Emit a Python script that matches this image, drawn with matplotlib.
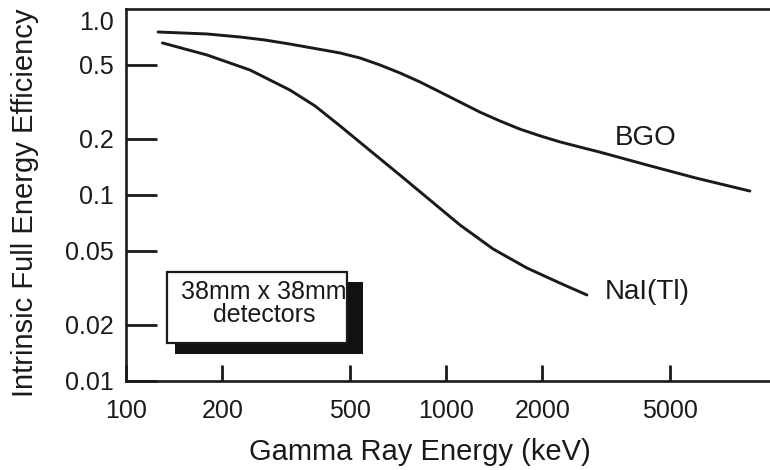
import matplotlib
matplotlib.use('Agg')
import matplotlib.pyplot as plt
from matplotlib.patches import Rectangle
from matplotlib.ticker import FixedLocator, FixedFormatter, NullLocator

plt.rcParams['font.family'] = ['Liberation Sans', 'DejaVu Sans']

# ---- data (energy in keV, efficiency) ----
bgo_energy = [126, 179, 227, 272, 325, 390, 467, 539, 622, 718, 830, 958,
              1106, 1277, 1475, 1703, 1967, 2271, 2623, 3029, 4246, 6083, 8913]
bgo_eff = [0.752, 0.734, 0.707, 0.681, 0.648, 0.613, 0.580, 0.545, 0.500,
           0.453, 0.405, 0.358, 0.316, 0.279, 0.250, 0.226, 0.208, 0.193,
           0.181, 0.170, 0.145, 0.123, 0.105]

nai_energy = [130, 179, 244, 325, 390, 467, 566, 718, 891, 1106, 1403,
              1791, 2271, 2758]
nai_eff = [0.657, 0.566, 0.470, 0.367, 0.301, 0.235, 0.179, 0.128, 0.094,
           0.069, 0.0513, 0.0405, 0.0336, 0.029]

x_ticks = [100, 200, 500, 1000, 2000, 5000]
x_tick_labels = ['100', '200', '500', '1000', '2000', '5000']
y_ticks = [0.01, 0.02, 0.05, 0.1, 0.2, 0.5]
y_tick_labels = ['0.01', '0.02', '0.05', '0.1', '0.2', '0.5']

fig = plt.figure(figsize=(7.7, 4.7), dpi=100)
ax = fig.add_axes([0.1636, 0.1894, 0.8364, 0.7915])

ax.plot(bgo_energy, bgo_eff, color='#1a1a1a', lw=2.1, solid_capstyle='round')
ax.plot(nai_energy, nai_eff, color='#1a1a1a', lw=2.1, solid_capstyle='round')

ax.set_xscale('log')
ax.set_yscale('log')
ax.set_xlim(100, 10300)
ax.set_ylim(0.01, 1.0)

ax.xaxis.set_major_locator(FixedLocator(x_ticks))
ax.xaxis.set_major_formatter(FixedFormatter(x_tick_labels))
ax.yaxis.set_major_locator(FixedLocator(y_ticks))
ax.yaxis.set_major_formatter(FixedFormatter(y_tick_labels))
ax.xaxis.set_minor_locator(NullLocator())
ax.yaxis.set_minor_locator(NullLocator())

ax.tick_params(axis='x', direction='in', length=11.5, width=2, pad=13,
               labelsize=18, colors='#1a1a1a')
ax.tick_params(axis='y', direction='in', length=22, width=2, pad=9,
               labelsize=18, colors='#1a1a1a')

for side in ['left', 'bottom', 'top']:
    ax.spines[side].set_linewidth(1.9)
    ax.spines[side].set_color('#1a1a1a')
ax.spines['right'].set_visible(False)

# the "1.0" label sits a little below the top line in the original
ax.annotate('1.0', xy=(0, 1.0), xycoords=('axes fraction', 'data'),
            xytext=(-9, -10), textcoords='offset points', ha='right',
            va='center', fontsize=18, color='#1a1a1a')

ax.set_xlabel('Gamma Ray Energy (keV)', fontsize=21, color='#1a1a1a',
              va='center')
ax.set_ylabel('Intrinsic Full Energy Efficiency', fontsize=21,
              color='#1a1a1a', va='center')
ax.xaxis.set_label_coords(0.4565, -0.19)
ax.yaxis.set_label_coords(-0.157, 0.48)

# curve labels
ax.text(4200, 0.203, 'BGO', fontsize=20, ha='center', va='center',
        color='#1a1a1a')
ax.text(4250, 0.030, 'NaI(Tl)', fontsize=20, ha='center', va='center',
        color='#1a1a1a')

# boxed note with drop shadow
shadow = Rectangle((0.0761, 0.0726), 0.292, 0.1935, transform=ax.transAxes,
                   facecolor='#111111', edgecolor='none', zorder=3)
box = Rectangle((0.0637, 0.102), 0.2795, 0.191, transform=ax.transAxes,
                facecolor='white', edgecolor='#1a1a1a', lw=1.6, zorder=4)
ax.add_patch(shadow)
ax.add_patch(box)
ax.text(0.2143, 0.239, '38mm x 38mm', transform=ax.transAxes, fontsize=18,
        ha='center', va='center', zorder=5, color='#1a1a1a')
ax.text(0.2143, 0.177, 'detectors', transform=ax.transAxes, fontsize=18,
        ha='center', va='center', zorder=5, color='#1a1a1a')

fig.savefig('out.png', dpi=100)
